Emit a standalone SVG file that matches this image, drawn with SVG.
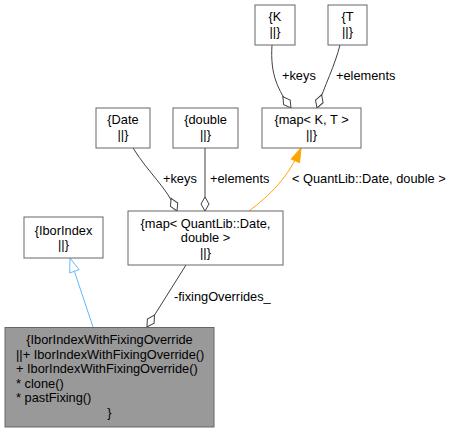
<svg xmlns="http://www.w3.org/2000/svg" width="454" height="432" viewBox="0 0 454 432">
<style>
.box{fill:#ffffff;stroke:#666666;stroke-width:1}
.main{fill:#999999;stroke:#666666;stroke-width:1}
text{font-family:"Liberation Sans",Arial,sans-serif;font-size:12.8px;fill:#000000}
.c{text-anchor:middle}
.e{fill:none;stroke:#404040;stroke-width:1}
.b{fill:none;stroke:#63b8ff;stroke-width:1}
.o{fill:none;stroke:#ffa500;stroke-width:1}
</style>
<defs>
<marker id="dia" markerUnits="userSpaceOnUse" markerWidth="16" markerHeight="10" viewBox="0 0 16 10" refX="15" refY="5" orient="auto">
<path d="M1,5 L8,1 L15,5 L8,9 Z" fill="#ffffff" stroke="#404040" stroke-width="1"/>
</marker>
<marker id="oarr" markerUnits="userSpaceOnUse" markerWidth="16" markerHeight="12" viewBox="0 0 16 12" refX="15" refY="6" orient="auto">
<path d="M1,1.5 L15,6 L1,10.5 Z" fill="#ffa500" stroke="#ffa500" stroke-width="1"/>
</marker>
</defs>
<g id="connectors">
<path class="b" d="M93,327 L74.4,271.3"/>
<polygon points="70,258 79.1,269.7 69.7,272.9" fill="#ffffff" stroke="#63b8ff" stroke-width="1"/>
<path class="e" d="M186,265 L147,327" marker-end="url(#dia)"/>
<text x="174" y="301">-fixingOverrides_</text>
<path class="e" d="M133,148 C150,175 165,185 177,211" marker-end="url(#dia)"/>
<text x="163" y="182.5">+keys</text>
<path class="e" d="M205,148 L205,211" marker-end="url(#dia)"/>
<text x="210" y="182.5">+elements</text>
<path class="o" d="M249,211 C270,195 288,178 301,148" marker-end="url(#oarr)"/>
<text x="292" y="182.5">&lt; QuantLib::Date, double &gt;</text>
<path class="e" d="M272,45 C270,75 278,90 291,108" marker-end="url(#dia)"/>
<text x="282" y="80">+keys</text>
<path class="e" d="M340,45 C335,65 325,85 317,108" marker-end="url(#dia)"/>
<text x="336" y="80">+elements</text>
</g>
<g id="node-main">
<rect class="main" x="5" y="327.5" width="209" height="99.5"/>
<text class="c" x="109.5" y="344">{IborIndexWithFixingOverride</text>
<text x="16" y="358.5">||+ IborIndexWithFixingOverride()</text>
<text x="16" y="373">+ IborIndexWithFixingOverride()</text>
<text x="16" y="387.5">* clone()</text>
<text x="16" y="402">* pastFixing()</text>
<text class="c" x="109.5" y="416.5">}</text>
</g>
<g id="node-IborIndex">
<rect class="box" x="24" y="217" width="79" height="41"/>
<text class="c" x="63.5" y="234.5">{IborIndex</text>
<text class="c" x="63.5" y="249">||}</text>
</g>
<g id="node-mapDate">
<rect class="box" x="128" y="211" width="155" height="54"/>
<text class="c" x="205.5" y="227.5">{map&lt; QuantLib::Date,</text>
<text class="c" x="205.5" y="242">double &gt;</text>
<text class="c" x="205.5" y="256.5">||}</text>
</g>
<g id="node-Date">
<rect class="box" x="96" y="108" width="54" height="40"/>
<text class="c" x="123" y="124">{Date</text>
<text class="c" x="123" y="139">||}</text>
</g>
<g id="node-double">
<rect class="box" x="173" y="108" width="65" height="40"/>
<text class="c" x="205.5" y="124">{double</text>
<text class="c" x="205.5" y="139">||}</text>
</g>
<g id="node-mapKT">
<rect class="box" x="262" y="108" width="99" height="40"/>
<text class="c" x="311.5" y="124">{map&lt; K, T &gt;</text>
<text class="c" x="311.5" y="139">||}</text>
</g>
<g id="node-K">
<rect class="box" x="255" y="5" width="40" height="40"/>
<text class="c" x="275" y="21">{K</text>
<text class="c" x="275" y="36">||}</text>
</g>
<g id="node-T">
<rect class="box" x="328" y="5" width="39" height="40"/>
<text class="c" x="347.5" y="21">{T</text>
<text class="c" x="347.5" y="36">||}</text>
</g>
</svg>
